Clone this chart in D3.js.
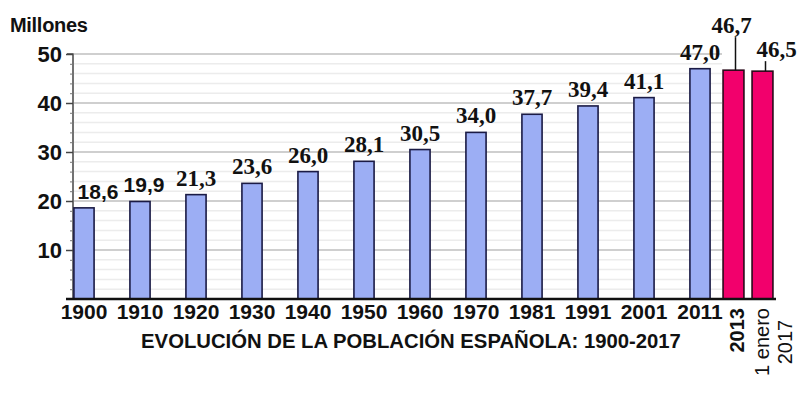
<!DOCTYPE html>
<html><head><meta charset="utf-8">
<script src="https://cdn.jsdelivr.net/npm/d3@7"></script>
<style>body{margin:0;background:#fff}svg{display:block}</style>
</head><body>
<svg id="c" width="800" height="396"></svg>
<script>
const censusYears = ["1900","1910","1920","1930","1940","1950","1960","1970","1981","1991","2001","2011"];
const censusValues = [18.6,19.9,21.3,23.6,26.0,28.1,30.5,34.0,37.7,39.4,41.1,47.0];
const recentKeys = ["2013","2017"];
const recentLabels = [["2013"],["1 enero","2017"]];
const recentValues = [46.7,46.5];
const yTicks = [10,20,30,40,50];
const title = "EVOLUCIÓN DE LA POBLACIÓN ESPAÑOLA: 1900-2017";
const yTitle = "Millones";

const fmt = v => d3.format(".1f")(v).replace(".", ",");
const svg = d3.select("#c");
const sans = "'Liberation Sans', Arial, sans-serif";
const serif = "'Liberation Serif', 'Times New Roman', serif";

const y = d3.scaleLinear().domain([0,50]).range([299,54]);
const x = d3.scaleBand().domain(censusYears).range([56,728]).paddingInner(0.64).paddingOuter(0.32);
const x2 = d3.scaleBand().domain(recentKeys).range([719,777]).paddingInner(0.28).paddingOuter(0.14);

// minor gridlines
const minor = d3.range(2,51,2).filter(v => v % 10 !== 0);
svg.append("g").selectAll("line").data(minor).join("line")
  .attr("x1",74).attr("x2",722).attr("y1",d=>y(d)).attr("y2",d=>y(d))
  .attr("stroke","#ececec").attr("stroke-width",1.5);
svg.append("g").selectAll("line").data(yTicks).join("line")
  .attr("x1",74).attr("x2",722).attr("y1",d=>y(d)).attr("y2",d=>y(d))
  .attr("stroke","#cfcfcf").attr("stroke-width",2);

// y axis
const yAxis = svg.append("g").attr("transform","translate(73,0)")
  .call(d3.axisLeft(y).tickValues(yTicks).tickSize(7).tickPadding(4).tickFormat(d3.format("d")));
yAxis.select(".domain").attr("stroke","#444").attr("stroke-width",1.5).attr("d","M0,299V54H-6");
yAxis.selectAll(".tick line").attr("stroke","#444").attr("stroke-width",1.5);
yAxis.selectAll(".tick text").attr("font-family",sans).attr("font-weight","bold")
  .attr("font-size",22).attr("fill","#111").attr("dy","0.36em");
svg.append("g").attr("transform","translate(73,0)")
  .call(d3.axisLeft(y).tickValues(minor).tickSize(3).tickFormat(""))
  .call(g=>{g.select(".domain").remove(); g.selectAll("line").attr("stroke","#777");});

// bars
svg.append("g").selectAll("rect").data(censusValues).join("rect")
  .attr("x",(d,i)=>x(censusYears[i])).attr("width",x.bandwidth())
  .attr("y",d=>y(d)).attr("height",d=>y(0)-y(d))
  .attr("fill","#9caef4").attr("stroke","#1b1b45").attr("stroke-width",1.6);
svg.append("g").selectAll("rect").data(recentValues).join("rect")
  .attr("x",(d,i)=>x2(recentKeys[i])).attr("width",x2.bandwidth())
  .attr("y",d=>y(d)).attr("height",d=>y(0)-y(d))
  .attr("fill","#f2006c").attr("stroke","#2a0a1a").attr("stroke-width",1.6);

// value labels
svg.append("g").selectAll("text").data(censusValues).join("text")
  .attr("x",(d,i)=>x(censusYears[i])+x.bandwidth()/2 + (i===0?14:(i===1?4:0)))
  .attr("y",d=>y(d)-9).attr("text-anchor","middle")
  .attr("font-family",(d,i)=>i<2?sans:serif).attr("font-weight","bold")
  .attr("font-size",(d,i)=>i<2?21:23).attr("fill","#111").text(fmt);

// recent labels with leader lines
const lift = [37,14], shift = [-4,11];
recentValues.forEach((v,i)=>{
  const cx = x2(recentKeys[i]) + x2.bandwidth()/2 + (i===0?2:3);
  svg.append("line").attr("x1",cx).attr("x2",cx).attr("y1",y(v)).attr("y2",y(v)-lift[i]+4)
    .attr("stroke","#111").attr("stroke-width",1.5);
  svg.append("text").attr("x",cx+shift[i]).attr("y",y(v)-lift[i]).attr("text-anchor","middle")
    .attr("font-family",serif).attr("font-weight","bold").attr("font-size",23).attr("fill","#111")
    .text(fmt(v));
});

// baseline
svg.append("line").attr("x1",66).attr("x2",776).attr("y1",y(0)).attr("y2",y(0))
  .attr("stroke","#111").attr("stroke-width",2.5);

// x tick labels
svg.append("g").selectAll("text").data(censusYears).join("text")
  .attr("x",d=>x(d)+x.bandwidth()/2).attr("y",319).attr("text-anchor","middle")
  .attr("font-family",sans).attr("font-weight","bold").attr("font-size",21).attr("fill","#111")
  .text(d=>d);

// rotated labels
recentLabels.forEach((lines,i)=>{
  const cx = x2(recentKeys[i]) + x2.bandwidth()/2;
  if (lines.length===1){
    svg.append("text").attr("transform",`translate(${cx+10},308) rotate(-90)`)
      .attr("text-anchor","end").attr("font-family",sans).attr("font-weight","bold")
      .attr("font-size",20).attr("fill","#111").text(lines[0]);
  } else {
    lines.forEach((t,j)=>{
      svg.append("text").attr("transform",`translate(${cx+6+j*23},342) rotate(-90)`)
        .attr("text-anchor","middle").attr("font-family",sans)
        .attr("font-size",20).attr("fill","#111").text(t);
    });
  }
});

// title & y title
svg.append("text").attr("x",411).attr("y",348).attr("text-anchor","middle")
  .attr("font-family",sans).attr("font-weight","bold").attr("font-size",20.3).attr("fill","#111").text(title);
svg.append("text").attr("x",10).attr("y",32)
  .attr("font-family",sans).attr("font-weight","bold").attr("font-size",20).attr("fill","#111")
  .attr("letter-spacing","-0.3").text(yTitle);
</script>
</body></html>
